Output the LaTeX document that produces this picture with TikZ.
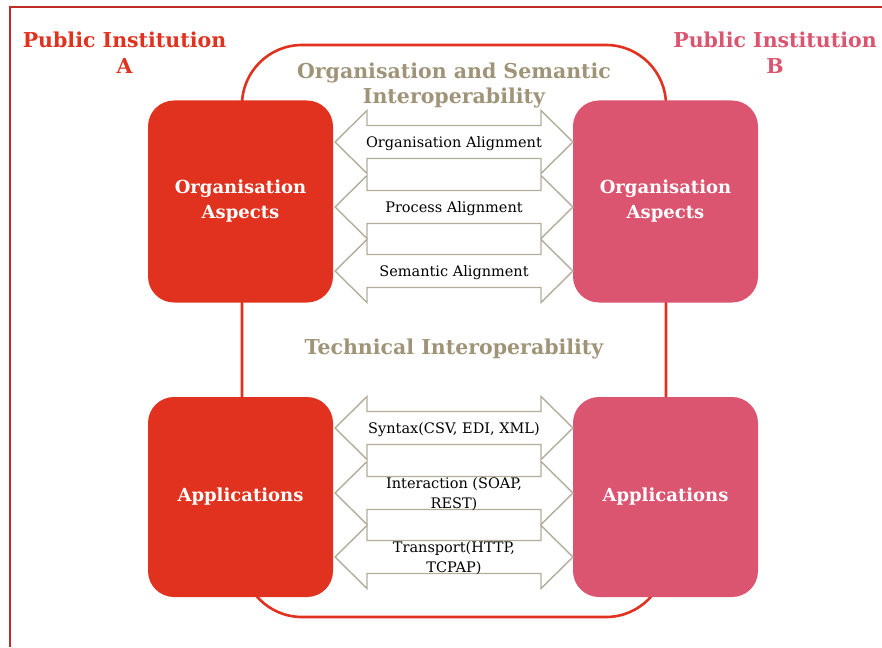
\documentclass[tikz,border=0pt]{standalone}
\usepackage{fontspec}
\setmainfont{DejaVu Serif}

\definecolor{instred}{HTML}{E0321F}
\definecolor{instpink}{HTML}{DB5570}
\definecolor{headtan}{HTML}{9F9478}
\definecolor{bandgray}{HTML}{B3AD9B}
\definecolor{framered}{HTML}{C02C26}

\begin{document}
\begin{tikzpicture}[x=1pt,y=-1pt,
    aspect/.style={rectangle, rounded corners=26pt, minimum width=185pt,
      minimum height=202pt, align=center, text=white,
      font=\bfseries\fontsize{18}{25}\selectfont},
    inst/.style={align=center, font=\bfseries\fontsize{20.5}{26}\selectfont},
    layer/.style={align=center, text=headtan, font=\bfseries\fontsize{20.5}{25}\selectfont},
    band/.style={draw=bandgray, fill=white, line width=1.4pt},
    bandtext/.style={align=center, font=\fontsize{14.5}{20}\selectfont}]
  \useasboundingbox (0,0) rectangle (882,647);

  % Outer frame (only top and left edges are seen)
  \draw[framered, line width=2pt] (10,647) -- (10,7) -- (882,7);

  % Rounded loop tying both institutions together
  \draw[instred, line width=2.6pt, rounded corners=60pt] (242,45) rectangle (666,617);

  % Institution boxes
  \node[aspect, fill=instred] (orgA) at (240.5,201.5) {Organisation\\Aspects};
  \node[aspect, fill=instred, minimum height=200pt] (appA) at (240.5,497) {Applications};
  \node[aspect, fill=instpink] (orgB) at (665.5,201.5) {Organisation\\Aspects};
  \node[aspect, fill=instpink, minimum height=200pt] (appB) at (665.5,497) {Applications};

  % Two-way bands between the boxes
  \foreach \c in {142,207,271,428,493,557}
    \draw[band] (335,\c) -- (367,\c-31.5) -- (367,\c-16.5) -- (541,\c-16.5)
      -- (541,\c-31.5) -- (573,\c) -- (541,\c+31.5) -- (541,\c+16.5)
      -- (367,\c+16.5) -- (367,\c+31.5) -- cycle;

  % Band labels
  \node[bandtext] (orgAlign) at (454,143.5) {Organisation Alignment};
  \node[bandtext] (procAlign) at (454,208.5) {Process Alignment};
  \node[bandtext] (semAlign) at (454,272.5) {Semantic Alignment};
  \node[bandtext] (syntax) at (454,429.5) {Syntax(CSV, EDI, XML)};
  \node[bandtext] (interact) at (454,494.5) {Interaction (SOAP,\\REST)};
  \node[bandtext] (transport) at (454,558.5) {Transport(HTTP,\\TCPAP)};

  % Layer headings
  \node[layer] (orgSem) at (454,85.5) {Organisation and Semantic\\Interoperability};
  \node[layer] (tech) at (454,349) {Technical Interoperability};

  % Institution names
  \node[inst, text=instred] (instA) at (124.5,52.5) {Public Institution\\A};
  \node[inst, text=instpink] (instB) at (775,52.5) {Public Institution\\B};
\end{tikzpicture}
\end{document}
